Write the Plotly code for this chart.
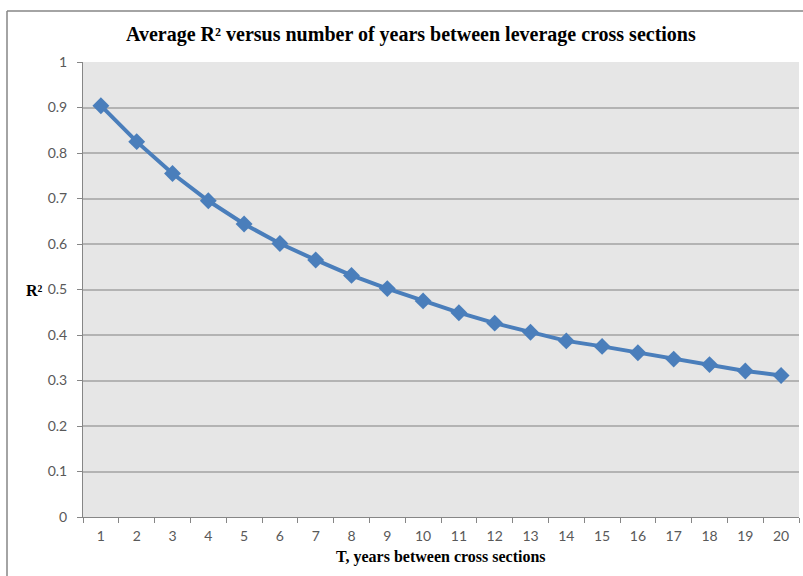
import plotly.graph_objects as go

# Years between leverage cross sections and the average R² for each gap
years = [str(t) for t in range(1, 21)]
avg_r2 = [0.904, 0.825, 0.755, 0.695, 0.644, 0.601, 0.565, 0.531, 0.502, 0.475,
          0.449, 0.426, 0.406, 0.387, 0.375, 0.361, 0.347, 0.335, 0.321, 0.311]
y_ticks = [0, 0.1, 0.2, 0.3, 0.4, 0.5, 0.6, 0.7, 0.8, 0.9, 1]

blue = "#4a7ebb"
axis_gray = "#868686"
tick_font = dict(family="Lato, Liberation Sans, sans-serif", size=14, color="#595959")
serif_bold = "Liberation Serif, Times New Roman, serif"

fig = go.Figure(
    go.Scatter(
        x=years,
        y=avg_r2,
        mode="lines+markers",
        line=dict(color=blue, width=4),
        marker=dict(symbol="diamond", size=13, color=blue),
        showlegend=False,
        hoverinfo="x+y",
    )
)

W, H = 803, 576
L, R, T, B = 83, 4, 62, 59
pw, ph = W - L - R, H - T - B


def px_x(p):
    return (p - L) / pw


def px_y(p):
    return 1 - (p - T) / ph


fig.update_layout(
    width=W,
    height=H,
    margin=dict(l=L, r=R, t=T, b=B),
    paper_bgcolor="white",
    plot_bgcolor="#e6e6e6",
    xaxis=dict(
        type="category",
        range=[-0.5, len(years) - 0.5],
        tickson="boundaries",
        ticks="outside",
        ticklen=5,
        tickcolor=axis_gray,
        showline=True,
        linecolor=axis_gray,
        linewidth=1,
        showgrid=False,
        tickfont=tick_font,
        ticklabelstandoff=6,
        fixedrange=True,
    ),
    yaxis=dict(
        range=[0, 1],
        tickvals=y_ticks,
        ticktext=[("%g" % v) for v in y_ticks],
        ticks="outside",
        ticklen=5,
        tickcolor=axis_gray,
        showline=True,
        linecolor=axis_gray,
        linewidth=1,
        showgrid=True,
        gridcolor="#b3b3b3",
        gridwidth=1.5,
        zeroline=False,
        tickfont=tick_font,
        ticklabelstandoff=7,
        fixedrange=True,
    ),
    shapes=[
        # chart frame (top and left edges)
        dict(type="line", xref="paper", yref="paper",
             x0=px_x(7), x1=px_x(7), y0=px_y(11), y1=px_y(590),
             line=dict(color=axis_gray, width=1.5)),
        dict(type="line", xref="paper", yref="paper",
             x0=px_x(7), x1=px_x(810), y0=px_y(11), y1=px_y(11),
             line=dict(color=axis_gray, width=1.5)),
    ],
    annotations=[
        dict(text="Average R² versus number of years between leverage cross sections",
             xref="paper", yref="paper", x=px_x(411), y=px_y(34),
             showarrow=False, xanchor="center", yanchor="middle",
             font=dict(family=serif_bold, size=20, color="black", weight="bold")),
        dict(text="R²", xref="paper", yref="paper", x=px_x(34), y=px_y(290),
             showarrow=False, xanchor="center", yanchor="middle",
             font=dict(family=serif_bold, size=16, color="black", weight="bold")),
        dict(text="T, years between cross sections",
             xref="paper", yref="paper", x=px_x(441), y=px_y(557),
             showarrow=False, xanchor="center", yanchor="middle",
             font=dict(family=serif_bold, size=16, color="black", weight="bold")),
    ],
)

fig.write_html("out.html")
